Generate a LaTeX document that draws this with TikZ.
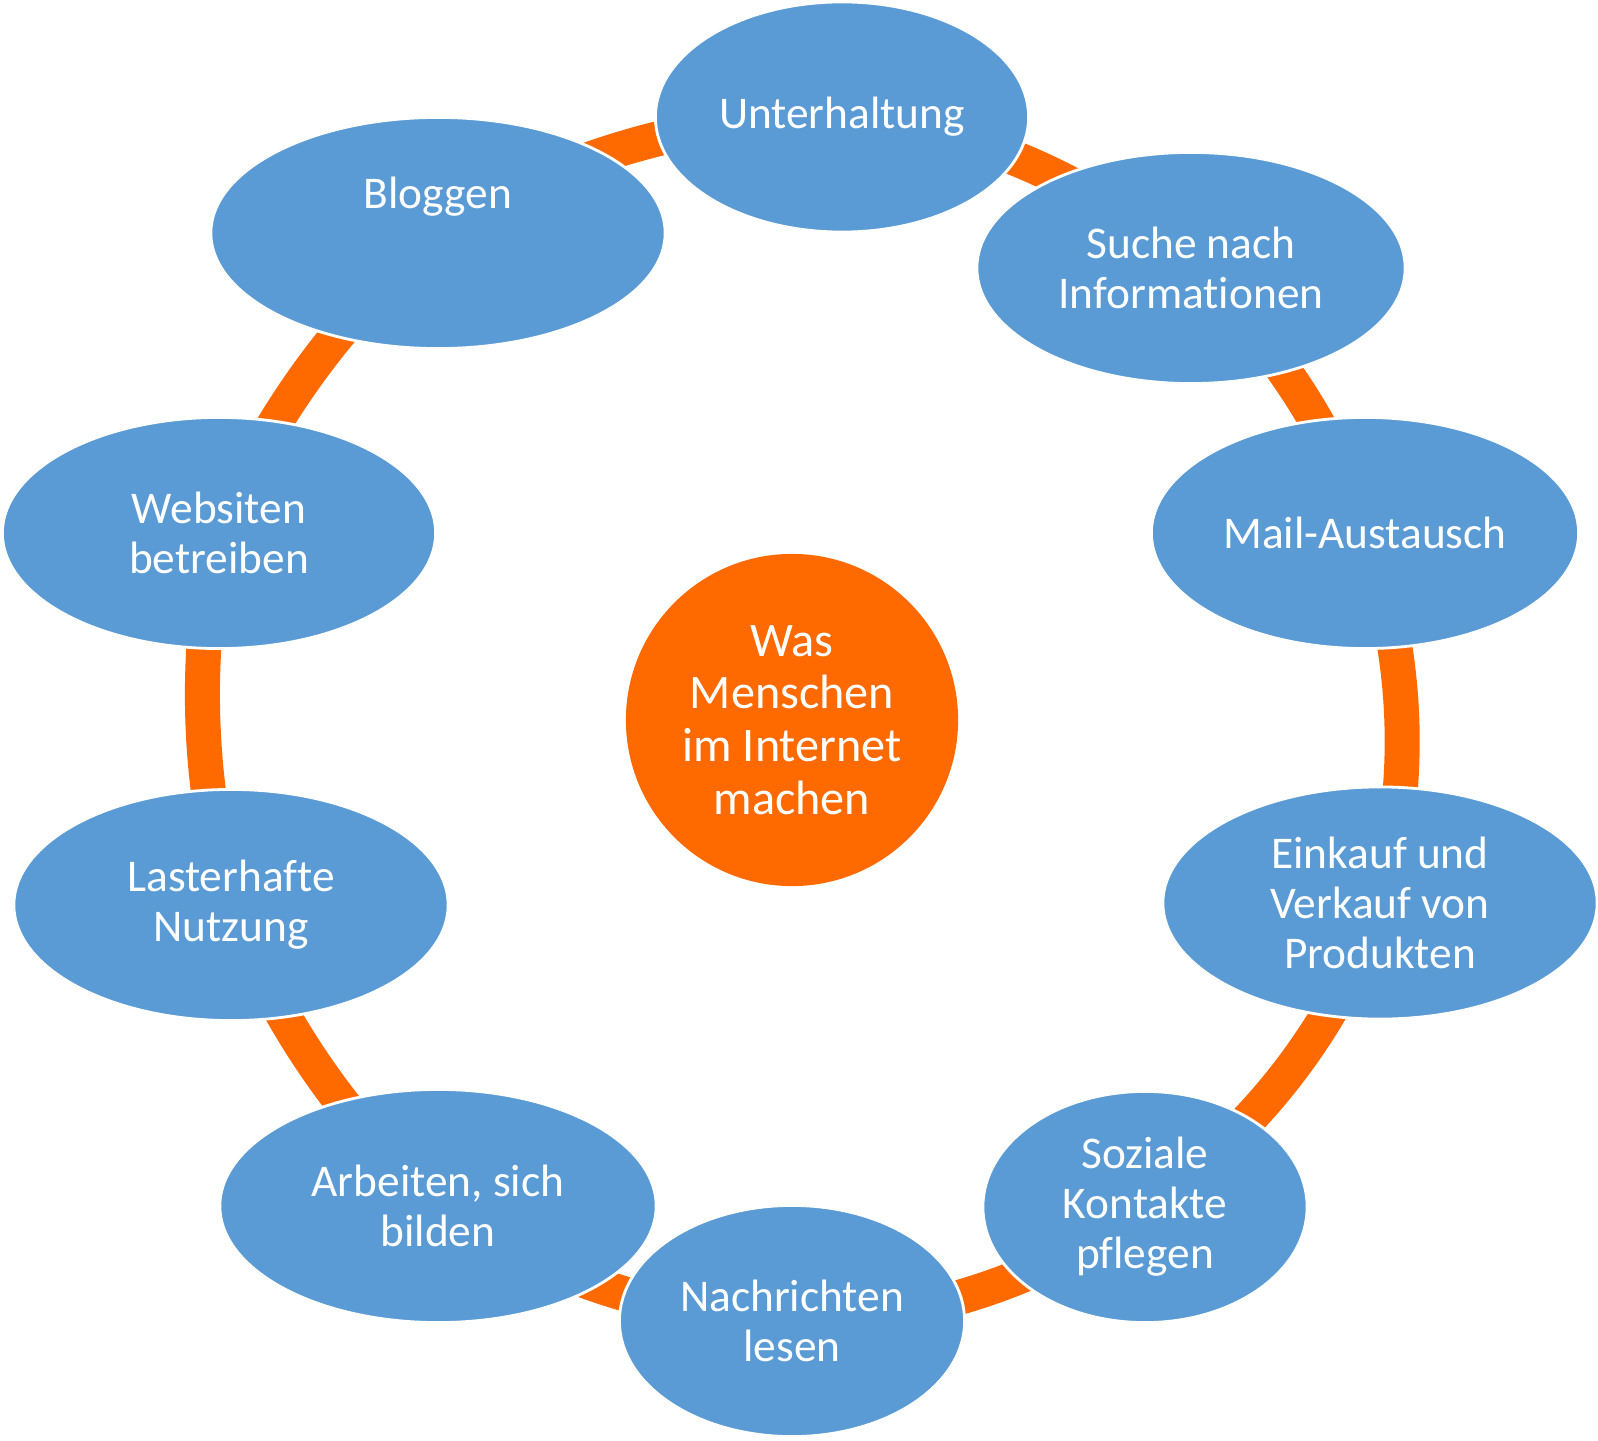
\documentclass[tikz,border=0pt]{standalone}
\usepackage{fontspec}
\setmainfont{Carlito}[Ligatures=NoCommon]
\usetikzlibrary{shapes.geometric}
\usetikzlibrary{backgrounds}
\definecolor{bubbleblue}{HTML}{5B9BD5}
\definecolor{ringorange}{HTML}{FF6A00}

\begin{document}
\begin{tikzpicture}[x=0.01cm,y=-0.01cm,
  bubble/.style={ellipse,fill=bubbleblue,draw=white,line width=0.8pt,inner sep=0pt,align=center,text=white,font=\fontsize{12.9}{14.2}\selectfont},
  hubnode/.style={circle,fill=ringorange,inner sep=0pt,minimum size=3.32cm,align=center,text=white,font=\fontsize{13.7}{15}\selectfont},
  ringline/.style={ringorange,line width=0.35cm,looseness=0.87}]
  \useasboundingbox (0,0) rectangle (1598,1440);
  \node [hubnode] (mitte) at (792,720) {Was\\Menschen\\im Internet\\machen};
  \node [bubble,minimum width=3.73cm,minimum height=2.30cm] (unterh) at (842,117) {Unterhaltung};
  \node [bubble,minimum width=4.28cm,minimum height=2.31cm] (suche) at (1191,268) {Suche nach\\Informationen};
  \node [bubble,minimum width=4.27cm,minimum height=2.31cm] (mail) at (1365,533) {Mail-Austausch};
  \node [bubble,minimum width=4.34cm,minimum height=2.32cm] (einkauf) at (1380,903) {Einkauf und\\Verkauf von\\Produkten};
  \node [bubble,minimum width=3.24cm,minimum height=2.31cm] (soziale) at (1145,1207) {Soziale\\Kontakte\\pflegen};
  \node [bubble,minimum width=3.45cm,minimum height=2.31cm] (nachr) at (792,1321) {Nachrichten\\lesen};
  \node [bubble,minimum width=4.36cm,minimum height=2.33cm] (arbeit) at (438,1206) {Arbeiten, sich\\bilden};
  \node [bubble,minimum width=4.34cm,minimum height=2.31cm] (laster) at (231,905) {Lasterhafte\\Nutzung};
  \node [bubble,minimum width=4.33cm,minimum height=2.31cm] (websit) at (219,533) {Websiten\\betreiben};
  \node [bubble,minimum width=4.54cm,minimum height=2.31cm,text depth=0.8cm] (blog) at (438,233) {Bloggen};
  \begin{scope}[on background layer]
    \draw [ringline] (unterh.center) to[bend left=18.6] (suche.center);
    \draw [ringline] (suche.center) to[bend left=15.6] (mail.center);
    \draw [ringline] (mail.center) to[bend left=18] (einkauf.center);
    \draw [ringline] (einkauf.center) to[bend left=18.6] (soziale.center);
    \draw [ringline] (soziale.center) to[bend left=18] (nachr.center);
    \draw [ringline] (nachr.center) to[bend left=16] (arbeit.center);
    \draw [ringline] (arbeit.center) to[bend left=13.5] (laster.center);
    \draw [ringline] (laster.center) to[bend left=13.5] (websit.center);
    \draw [ringline] (websit.center) to[bend left=13.5] (blog.center);
    \draw [ringline] (blog.center) to[bend left=16.5] (unterh.center);
  \end{scope}
\end{tikzpicture}
\end{document}
